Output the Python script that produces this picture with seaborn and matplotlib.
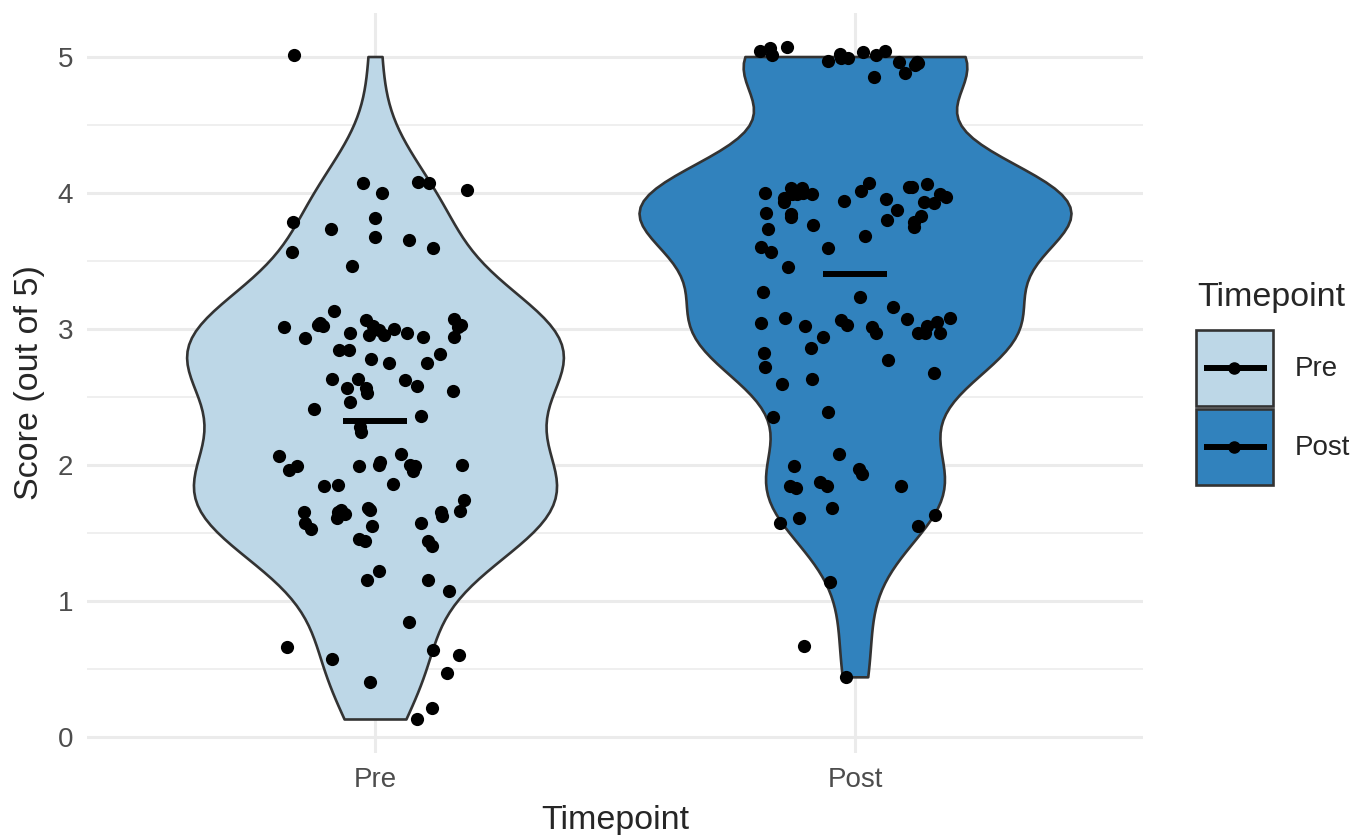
import numpy as np
import pandas as pd
import matplotlib
matplotlib.use("Agg")
import matplotlib.pyplot as plt
from matplotlib.ticker import MultipleLocator
from matplotlib.patches import Patch, Rectangle
from matplotlib.lines import Line2D
from matplotlib.legend_handler import HandlerBase
import seaborn as sns

# scores (jittered positions as shown)
pre_scores = [
    5.01,
    4.07, 4.07, 4.08, 4.02, 4.00,
    3.81, 3.78, 3.73, 3.67, 3.65, 3.59, 3.46, 3.56,
    3.13, 3.07, 3.04, 3.06, 3.01, 3.01, 3.00, 3.03, 3.02, 2.95,
    2.94, 2.93, 2.99, 2.94, 2.97, 2.95, 3.03, 3.02, 2.97,
    2.78, 2.84, 2.81, 2.75, 2.84, 2.75, 2.63, 2.56, 2.56, 2.62,
    2.46, 2.53, 2.58, 2.63, 2.54, 2.41, 2.36,
    2.28, 2.24,
    2.08, 2.00, 1.99, 2.06, 1.99, 1.99, 2.02, 1.95, 2.00, 2.00, 1.96,
    1.85, 1.86, 1.84, 1.74, 1.66, 1.62, 1.67, 1.65, 1.65, 1.65,
    1.68, 1.57, 1.55, 1.57, 1.64, 1.67, 1.61, 1.53,
    1.45, 1.44, 1.44, 1.40, 1.22, 1.15, 1.15, 1.07,
    0.84, 0.64, 0.60, 0.66, 0.47, 0.57, 0.40, 0.21, 0.13,
]
post_scores = [
    5.07, 5.04, 5.01, 4.97, 4.94, 4.99, 4.85, 4.96, 4.96, 4.88,
    5.04, 5.02, 4.99, 5.06, 5.03, 5.01, 4.95,
    3.99, 3.96, 4.00, 3.95, 3.93, 4.03, 4.07, 3.99, 4.04, 3.93,
    4.00, 4.01, 4.04, 3.97, 3.99, 4.03, 4.06, 3.92, 3.99, 3.94, 3.87,
    3.83, 3.84, 3.80, 3.75, 3.68, 3.82, 3.85, 3.76, 3.78, 3.73,
    3.60, 3.59, 3.56,
    3.45, 3.27, 3.23, 3.16, 3.06, 3.08, 2.94, 3.01, 2.97, 3.08,
    3.02, 3.04, 2.97, 3.05, 3.03, 3.07, 2.97, 2.97, 3.02,
    2.82, 2.86, 2.63, 2.59, 2.67, 2.72, 2.77,
    2.35, 2.39, 2.08, 1.99, 1.97, 1.93, 1.87, 1.84, 1.84, 1.83,
    1.84, 1.68, 1.61, 1.63, 1.55, 1.57,
    1.14, 0.67, 0.44,
]
timepoints = ["Pre", "Post"]
colors = {"Pre": "#BDD7E7", "Post": "#3182BD"}

df = pd.DataFrame({
    "Timepoint": ["Pre"] * len(pre_scores) + ["Post"] * len(post_scores),
    "Score": pre_scores + post_scores,
})
# score can't go above 5 - the violin uses the capped values
df["Capped"] = df["Score"].clip(upper=5)


def nrd0(kde):
    # R's default bandwidth, as scipy factor
    x = kde.dataset[0]
    sd = x.std(ddof=1)
    iqr = np.subtract(*np.percentile(x, [75, 25]))
    return 0.9 * min(sd, iqr / 1.34) * len(x) ** -0.2 / sd


class KeyHandler(HandlerBase):
    # filled box with a mean bar + dot in the middle
    def create_artists(self, legend, orig_handle, xdescent, ydescent,
                       width, height, fontsize, trans):
        x0, y0 = -xdescent, -ydescent
        cy = y0 + height / 2
        box = Rectangle((x0, y0), width, height, facecolor=orig_handle.get_facecolor(),
                        edgecolor="#333333", lw=1.9, transform=trans)
        bar = Line2D([x0 + 0.1 * width, x0 + 0.92 * width], [cy, cy], color="black",
                     lw=4.3, solid_capstyle="butt", transform=trans)
        dot = Line2D([x0 + width / 2], [cy], marker="o", markersize=8, color="black",
                     linestyle="none", transform=trans)
        return [box, bar, dot]


sns.set_theme(style="whitegrid")
plt.rcParams["font.family"] = ["Liberation Sans", "DejaVu Sans"]

fig = plt.figure(figsize=(13.52, 8.35), dpi=100)
ax = fig.add_axes([87 / 1352, 1 - 753 / 835, (1143 - 87) / 1352, (753 - 13) / 835])

# one violin per call so each gets its own smoothing / max width
violin_opts = {"Pre": dict(width=0.785, bw_adjust=1.1), "Post": dict(width=0.9, bw_adjust=1.12)}
for t in timepoints:
    sns.violinplot(data=df[df["Timepoint"] == t], x="Timepoint", y="Capped",
                   order=timepoints, color=colors[t], cut=0, density_norm="width",
                   inner=None, linewidth=1.9, linecolor="#333333", bw_method=nrd0,
                   saturation=1, ax=ax, **violin_opts[t])

np.random.seed(7)
sns.stripplot(data=df, x="Timepoint", y="Score", order=timepoints, color="black",
              size=9.5, jitter=0.2, linewidth=0, ax=ax, zorder=4)

means = df.groupby("Timepoint")["Score"].mean().reindex(timepoints)
for i, m in enumerate(means):
    ax.hlines(m, i - 0.067, i + 0.067, color="black", lw=4.3, zorder=5)

ax.set_xlim(-0.6, 1.6)
ax.set_ylim(-0.12, 5.32)
ax.yaxis.set_major_locator(MultipleLocator(1))
ax.yaxis.set_minor_locator(MultipleLocator(0.5))
ax.grid(which="major", color="#EBEBEB", lw=2.2)
ax.grid(which="minor", axis="y", color="#EBEBEB", lw=1.1)
ax.set_axisbelow(True)
for s in ax.spines.values():
    s.set_visible(False)
ax.tick_params(which="both", length=0, labelsize=20, labelcolor="#4D4D4D", pad=10)
ax.set_xlabel("Timepoint", fontsize=24.5, labelpad=9)
ax.set_ylabel("Score (out of 5)", fontsize=24.5, labelpad=9)

fig.text(1197 / 1352, 1 - 297 / 835, "Timepoint", fontsize=24.5, va="center", ha="left")
handles = [Patch(facecolor=colors[t]) for t in timepoints]
leg = fig.legend(handles, timepoints, loc="upper left",
                 bbox_to_anchor=(1196 / 1352, 1 - 330 / 835), frameon=False,
                 fontsize=20, handlelength=2.77, handleheight=3.85,
                 labelspacing=0.1, handletextpad=0.8, borderpad=0,
                 borderaxespad=0, handler_map={Patch: KeyHandler()})

fig.savefig("out.png", dpi=100)
